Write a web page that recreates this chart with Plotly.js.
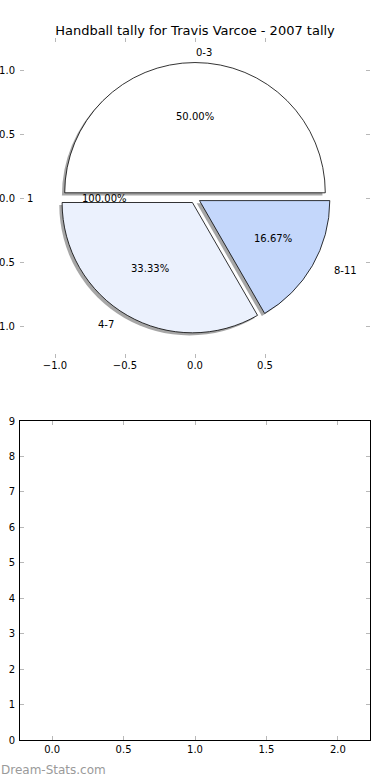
<!DOCTYPE html>
<html>
<head>
<meta charset="utf-8">
<script src="https://cdn.plot.ly/plotly-3.0.1.min.js"></script>
<style>html,body{margin:0;padding:0;background:#fff;}#chart{width:390px;height:780px;}</style>
</head>
<body>
<div id="chart"></div>
<script>
// ---- data ----
const chartTitle = 'Handball tally for Travis Varcoe - 2007 tally';
const pieLabels = ['0-3', '4-7', '8-11'];
const pieValues = [3, 2, 1];
const totalLabels = ['1'];
const totalValues = [1];
const topXTicks = [-1.0, -0.5, 0.0, 0.5];
const topYTicks = [-1.0, -0.5, 0.0, 0.5, 1.0];
const bottomXTicks = [0.0, 0.5, 1.0, 1.5, 2.0];
const bottomYTicks = [0, 1, 2, 3, 4, 5, 6, 7, 8, 9];
const watermark = 'Dream-Stats.com';

// ---- style ----
const pieColors = ['#ffffff', '#ebf1fd', '#c4d7fb'];
const FONT = 'DejaVu Sans, sans-serif';
const W = 390, H = 780;
const pullMain = 0.04, pullTotal = 0.05;
const labelDist = 1.1, pctDist = 0.6;
const tickGrey = '#b8b8b8';

function px2paperX(px) { return px / W; }
function px2paperY(py) { return 1 - py / H; }

function mids(values) {
  const total = values.reduce((a, b) => a + b, 0);
  let cum = 0;
  return values.map(v => {
    const t1 = cum / total * 2 * Math.PI;
    cum += v;
    const t2 = cum / total * 2 * Math.PI;
    return (t1 + t2) / 2;
  });
}
function pct(values) {
  const total = values.reduce((a, b) => a + b, 0);
  return values.map(v => (v / total * 100).toFixed(2) + '%');
}

// pie geometry (pixels)
const cx = 195, cy = 198, half = 135.5;
const dom = {
  x: [px2paperX(cx - half), px2paperX(cx + half)],
  y: [px2paperY(cy + half), px2paperY(cy - half)]
};
const sdx = -2.8 / W, sdy = -2.6 / H;
const shadowDom = {
  x: [dom.x[0] + sdx, dom.x[1] + sdx],
  y: [dom.y[0] + sdy, dom.y[1] + sdy]
};

const traces = [
  {type: 'scatter', x: [], y: [], xaxis: 'x', yaxis: 'y', showlegend: false, hoverinfo: 'skip'},
  {type: 'scatter', x: [], y: [], xaxis: 'x2', yaxis: 'y2', showlegend: false, hoverinfo: 'skip'},
  {
    type: 'pie', labels: pieLabels, values: pieValues, sort: false,
    direction: 'counterclockwise', rotation: -90, pull: pullMain,
    domain: shadowDom, textinfo: 'none', hoverinfo: 'skip', showlegend: false,
    marker: {colors: pieValues.map(() => 'rgba(77,77,77,0.5)'), line: {width: 0}}
  },
  {
    type: 'pie', labels: pieLabels, values: pieValues, sort: false,
    direction: 'counterclockwise', rotation: -90, pull: pullMain,
    domain: dom, textinfo: 'none', hoverinfo: 'skip', showlegend: false,
    marker: {colors: pieColors, line: {color: '#000000', width: 0.8}}
  }
];

const annotations = [];
function addPieTexts(labels, values, explode) {
  const m = mids(values), p = pct(values);
  m.forEach((a, i) => {
    const xt = (explode + labelDist) * Math.cos(a);
    const yt = (explode + labelDist) * Math.sin(a);
    annotations.push({
      xref: 'x', yref: 'y', x: xt, y: yt, text: labels[i], showarrow: false,
      xanchor: xt >= 0 ? 'left' : 'right', yanchor: 'middle', borderpad: 0,
      font: {family: FONT, size: 10, color: '#000'}
    });
    annotations.push({
      xref: 'x', yref: 'y',
      x: (explode + pctDist) * Math.cos(a), y: (explode + pctDist) * Math.sin(a),
      text: p[i], showarrow: false, xanchor: 'center', yanchor: 'middle', borderpad: 0,
      font: {family: FONT, size: 10, color: '#000'}
    });
  });
}
addPieTexts(totalLabels, totalValues, pullTotal);
addPieTexts(pieLabels, pieValues, pullMain);

annotations.push({
  xref: 'paper', yref: 'paper', x: 0, y: px2paperY(770), xanchor: 'left', yanchor: 'middle',
  text: watermark, showarrow: false, borderpad: 0,
  font: {family: FONT, size: 12, color: '#9a9a9a'}
});

const axBase = {
  ticks: 'inside', ticklen: 4, tickwidth: 1, tickcolor: tickGrey,
  mirror: 'ticks', showgrid: false, zeroline: false,
  tickfont: {family: FONT, size: 10, color: '#000'}, fixedrange: true
};

const layout = {
  width: W, height: H,
  margin: {l: 0, r: 0, t: 0, b: 0},
  paper_bgcolor: '#ffffff', plot_bgcolor: 'rgba(0,0,0,0)',
  showlegend: false,
  title: {text: chartTitle, x: 0.5, xanchor: 'center', y: px2paperY(30), yanchor: 'middle',
          font: {family: FONT, size: 13, color: '#000'}},
  xaxis: Object.assign({}, axBase, {
    domain: [px2paperX(20), px2paperX(370)], range: [-1.25, 1.25], anchor: 'y',
    tickvals: topXTicks, tickformat: '.1f', showline: false
  }),
  yaxis: Object.assign({}, axBase, {
    domain: [px2paperY(358), px2paperY(38)], range: [-1.25, 1.25], anchor: 'x',
    tickvals: topYTicks, tickformat: '.1f', showline: false, ticklabelstandoff: 4
  }),
  xaxis2: Object.assign({}, axBase, {
    domain: [px2paperX(20), px2paperX(370)], range: [-0.225, 2.225], anchor: 'y2',
    tickvals: bottomXTicks, tickformat: '.1f', showline: true, linecolor: '#000', linewidth: 1
  }),
  yaxis2: Object.assign({}, axBase, {
    domain: [px2paperY(740), px2paperY(421)], range: [0, 9], anchor: 'x2',
    tickvals: bottomYTicks, tickformat: 'd', showline: true, linecolor: '#000', linewidth: 1,
    ticklabelstandoff: 2
  }),
  annotations: annotations
};

Plotly.newPlot('chart', traces, layout, {staticPlot: true, displayModeBar: false});
</script>
</body>
</html>
